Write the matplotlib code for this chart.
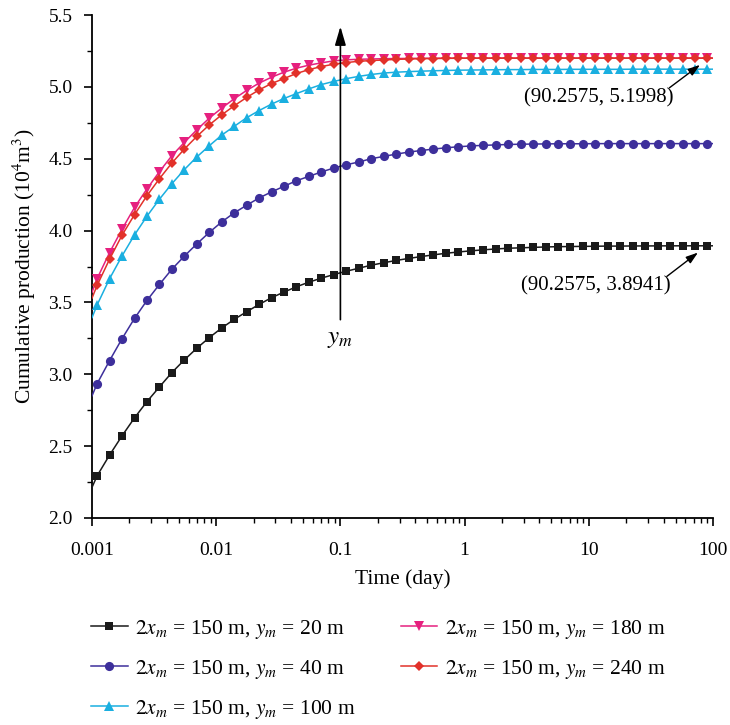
import matplotlib
matplotlib.use("Agg")
import matplotlib.pyplot as plt
from matplotlib.ticker import LogLocator, NullFormatter, FixedLocator, MultipleLocator

plt.rcParams['font.family'] = ['Liberation Serif', 'DejaVu Serif']
plt.rcParams['mathtext.fontset'] = 'stix'

# sampled times (day) of the markers
time = [0.0011, 0.001385, 0.001746, 0.0022, 0.002771, 0.00349, 0.004396, 0.005538, 0.006977, 0.00879,
        0.01107, 0.01395, 0.01757, 0.02214, 0.02789, 0.03513, 0.04426, 0.05576, 0.07024, 0.08849,
        0.1115, 0.1404, 0.1769, 0.2229, 0.2808, 0.3537, 0.4456, 0.5614, 0.7072, 0.8907,
        1.122, 1.414, 1.781, 2.243, 2.827, 3.561, 4.486, 5.649, 7.117, 8.966,
        11.29, 14.23, 17.92, 22.58, 28.45, 35.84, 45.14, 56.87, 71.65, 90.2575]

# line end points (t = 0.001 and t = 100)
t_start, t_end = 0.001, 100.0

ym20 = [2.294, 2.438, 2.572, 2.697, 2.810, 2.912, 3.012, 3.100, 3.181, 3.255,
        3.322, 3.382, 3.435, 3.486, 3.533, 3.572, 3.609, 3.641, 3.669, 3.694,
        3.717, 3.738, 3.759, 3.776, 3.792, 3.806, 3.819, 3.831, 3.842, 3.851,
        3.859, 3.866, 3.872, 3.877, 3.880, 3.883, 3.886, 3.888, 3.889, 3.890,
        3.891, 3.892, 3.892, 3.893, 3.893, 3.8935, 3.8938, 3.894, 3.894, 3.8941]
ym40 = [2.935, 3.095, 3.248, 3.389, 3.514, 3.625, 3.731, 3.822, 3.907, 3.987,
        4.060, 4.123, 4.176, 4.227, 4.269, 4.308, 4.347, 4.377, 4.408, 4.435,
        4.458, 4.477, 4.500, 4.516, 4.532, 4.546, 4.557, 4.567, 4.576, 4.583,
        4.589, 4.593, 4.596, 4.599, 4.601, 4.602, 4.603, 4.604, 4.604, 4.604,
        4.605, 4.605, 4.605, 4.605, 4.605, 4.605, 4.605, 4.605, 4.605, 4.605]
ym100 = [3.483, 3.665, 3.824, 3.970, 4.100, 4.218, 4.326, 4.424, 4.512, 4.590,
         4.664, 4.725, 4.785, 4.835, 4.880, 4.919, 4.953, 4.986, 5.016, 5.038,
         5.057, 5.073, 5.086, 5.096, 5.102, 5.106, 5.109, 5.112, 5.114, 5.116,
         5.117, 5.118, 5.119, 5.120, 5.120, 5.121, 5.121, 5.121, 5.122, 5.122,
         5.122, 5.122, 5.122, 5.123, 5.123, 5.123, 5.123, 5.123, 5.123, 5.123]
ym180 = [3.666, 3.847, 4.010, 4.161, 4.290, 4.410, 4.521, 4.613, 4.701, 4.782,
         4.852, 4.917, 4.975, 5.026, 5.067, 5.102, 5.130, 5.151, 5.167, 5.181,
         5.188, 5.192, 5.194, 5.196, 5.197, 5.198, 5.199, 5.1993, 5.1995, 5.1996,
         5.1997, 5.1997, 5.1998, 5.1998, 5.1998, 5.1998, 5.1998, 5.1998, 5.1998, 5.1998,
         5.1998, 5.1998, 5.1998, 5.1998, 5.1998, 5.1998, 5.1998, 5.1998, 5.1998, 5.1998]
ym240 = [3.619, 3.801, 3.968, 4.111, 4.243, 4.361, 4.470, 4.567, 4.655, 4.735,
         4.805, 4.868, 4.926, 4.979, 5.023, 5.058, 5.093, 5.120, 5.141, 5.158,
         5.169, 5.178, 5.183, 5.187, 5.191, 5.194, 5.196, 5.197, 5.198, 5.199,
         5.1993, 5.1995, 5.1996, 5.1997, 5.1997, 5.1998, 5.1998, 5.1998, 5.1998, 5.1998,
         5.1998, 5.1998, 5.1998, 5.1998, 5.1998, 5.1998, 5.1998, 5.1998, 5.1998, 5.1998]

start_vals = [2.213, 2.850, 3.394, 3.570, 3.530]
series = [ym20, ym40, ym100, ym180, ym240]
labels = [r'$2x_m$ = 150 m, $y_m$ = 20 m',
          r'$2x_m$ = 150 m, $y_m$ = 40 m',
          r'$2x_m$ = 150 m, $y_m$ = 100 m',
          r'$2x_m$ = 150 m, $y_m$ = 180 m',
          r'$2x_m$ = 150 m, $y_m$ = 240 m']
colors = ['#1a1a1a', '#3d2f9b', '#1aafe0', '#e6207f', '#e2312a']
markers = ['s', 'o', '^', 'v', 'D']
msizes = [5.8, 6.6, 7.0, 7.0, 5.6]

fig = plt.figure(figsize=(7.3, 7.25), dpi=100)
ax = fig.add_axes([92/730, 1-518/725, 621/730, 503/725])

handles = []
for vals, s0, lab, c, m, ms in zip(series, start_vals, labels, colors, markers, msizes):
    xs = [t_start] + time + [t_end]
    ys = [s0] + vals + [vals[-1]]
    h, = ax.plot(xs, ys, color=c, lw=1.1, marker=m, ms=ms, markevery=list(range(1, len(xs)-1)),
                 markeredgewidth=0, label=lab, zorder=3)
    handles.append(h)

ax.set_xscale('log')
ax.set_xlim(0.001, 100)
ax.set_ylim(2.0, 5.5)
ax.xaxis.set_major_locator(FixedLocator([0.001, 0.01, 0.1, 1, 10, 100]))
ax.set_xticklabels(['0.001', '0.01', '0.1', '1', '10', '100'])
ax.xaxis.set_minor_locator(LogLocator(base=10, subs=range(2, 10)))
ax.xaxis.set_minor_formatter(NullFormatter())
ax.yaxis.set_major_locator(MultipleLocator(0.5))
ax.yaxis.set_minor_locator(MultipleLocator(0.25))
ax.yaxis.set_major_formatter(matplotlib.ticker.FormatStrFormatter('%.1f'))

for sp in ['top', 'right']:
    ax.spines[sp].set_visible(False)
for sp in ['left', 'bottom']:
    ax.spines[sp].set_linewidth(1.3)
ax.tick_params(which='major', direction='out', length=6, width=1.2, labelsize=14, pad=8)
ax.tick_params(axis='x', which='major', pad=11)
ax.tick_params(which='minor', direction='out', length=3.5, width=1.0)

ax.set_xlabel('Time (day)', fontsize=15.5, labelpad=8)
ax.set_ylabel(r'Cumulative production (10$^4$m$^3$)', fontsize=15.5, labelpad=7)

# big arrow
ax.annotate('', xy=(0.1, 5.42), xytext=(0.1, 3.38),
            arrowprops=dict(arrowstyle='-|>,head_length=0.75,head_width=0.22', color='black',
                            lw=1.2, mutation_scale=15, shrinkA=0, shrinkB=0), zorder=5)
ax.text(0.1, 3.243, r'$y_m$', fontsize=18, ha='center', va='center')

# point annotations
ax.text(12.0, 4.924, '(90.2575, 5.1998)', fontsize=15, ha='center', va='center')
ax.annotate('', xy=(78.6, 5.153), xytext=(44.5, 4.993),
            arrowprops=dict(arrowstyle='-|>,head_length=0.6,head_width=0.2', color='black',
                            lw=1.0, mutation_scale=12, shrinkA=0, shrinkB=0))
ax.text(11.3, 3.618, '(90.2575, 3.8941)', fontsize=15, ha='center', va='center')
ax.annotate('', xy=(75.7, 3.847), xytext=(42.5, 3.681),
            arrowprops=dict(arrowstyle='-|>,head_length=0.6,head_width=0.2', color='black',
                            lw=1.0, mutation_scale=12, shrinkA=0, shrinkB=0))

fig.legend(handles=handles, loc='upper left', bbox_to_anchor=(91/730, 1-618/725), ncol=2,
           frameon=False, fontsize=15.5, handlelength=1.7, handletextpad=0.35, labelspacing=0.78,
           columnspacing=2.1, borderpad=0, borderaxespad=0)

fig.savefig('out.png', dpi=100)
